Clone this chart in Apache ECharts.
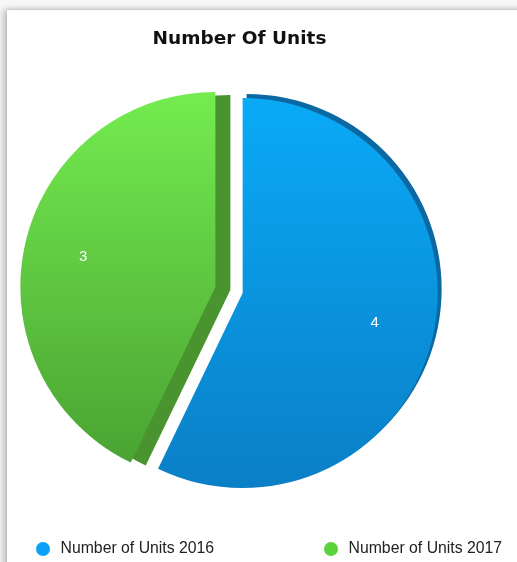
<!DOCTYPE html>
<html>
<head>
<meta charset="utf-8">
<script src="https://cdn.jsdelivr.net/npm/echarts@6/dist/echarts.min.js"></script>
<style>
  html, body { margin: 0; padding: 0; background: #f7f7f7; width: 517px; height: 562px; overflow: hidden; }
  #card { position: absolute; left: 7px; top: 10px; width: 530px; height: 570px; background: #fff;
          box-shadow: -3px 0 7px rgba(0,0,0,0.28), 0 -1px 2px rgba(0,0,0,0.08); }
  #chart { position: absolute; left: 0; top: 0; width: 517px; height: 562px; }
</style>
</head>
<body>
<div id="card"></div>
<div id="chart"></div>
<script>
const titleText = 'Number Of Units';
const categories = ['Number of Units 2016', 'Number of Units 2017'];
const values = [4, 3];
const faceTop = ['#0aaaf7', '#74ec50'];
const faceBottom = ['#0a7fc6', '#4aa332'];
const depthColors = ['#0a68a2', '#4a9430'];
const legendColors = ['#0aa0f7', '#5cd23c'];
const depthOffsets = [[4, -4], [15, 3]];

const chart = echarts.init(document.getElementById('chart'), null, { renderer: 'canvas' });

const mainData = categories.map((name, i) => ({
  name: name,
  value: values[i],
  selected: true,
  itemStyle: {
    color: {
      type: 'linear', x: 0, y: 0, x2: 0, y2: 1,
      colorStops: [{ offset: 0, color: faceTop[i] }, { offset: 1, color: faceBottom[i] }]
    },
    shadowColor: depthColors[i],
    shadowBlur: 0,
    shadowOffsetX: depthOffsets[i][0],
    shadowOffsetY: depthOffsets[i][1]
  }
}));

const labelData = categories.map((name, i) => ({
  name: name,
  value: values[i],
  selected: true
}));

const option = {
  animation: false,
  backgroundColor: 'transparent',
  title: {
    text: titleText,
    left: 239.5,
    top: 30,
    textAlign: 'center',
    padding: 0,
    textStyle: { fontFamily: 'DejaVu Sans', fontWeight: 'bold', fontSize: 18.5, color: '#111' }
  },
  legend: categories.map((name, i) => ({
    data: [{ name: name, itemStyle: { color: legendColors[i] } }],
    left: i === 0 ? 36 : 324,
    top: 541,
    padding: 0,
    icon: 'circle',
    itemWidth: 25,
    itemHeight: 14,
    selectedMode: false,
    textStyle: { fontFamily: 'Liberation Sans', fontSize: 15.8, color: '#222' }
  })),
  series: [
    {
      type: 'pie',
      name: 'units',
      center: [229, 290],
      radius: [0, 195],
      startAngle: 90,
      clockwise: true,
      selectedMode: 'multiple',
      selectedOffset: 14,
      silent: true,
      label: { show: false },
      labelLine: { show: false },
      emphasis: { disabled: true },
      data: mainData
    },
    {
      type: 'pie',
      name: 'labels',
      center: [229, 290],
      radius: [70, 195],
      startAngle: 90,
      clockwise: true,
      selectedMode: 'multiple',
      selectedOffset: 14,
      silent: true,
      itemStyle: { color: 'rgba(0,0,0,0)' },
      label: {
        show: true,
        position: 'inside',
        formatter: '{c}',
        color: '#fff',
        fontFamily: 'Liberation Sans',
        fontSize: 15
      },
      labelLine: { show: false },
      emphasis: { disabled: true },
      data: labelData
    }
  ]
};
chart.setOption(option);
</script>
</body>
</html>
